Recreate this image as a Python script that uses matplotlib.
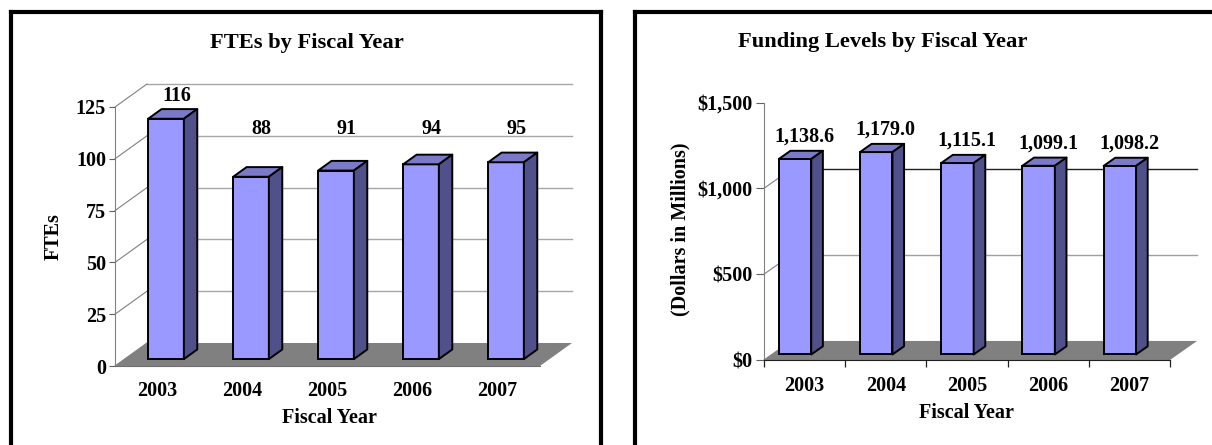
import matplotlib
matplotlib.use('Agg')
import matplotlib.pyplot as plt
from matplotlib.patches import Polygon
from matplotlib.lines import Line2D

# ---------------- data ----------------
years = ['2003', '2004', '2005', '2006', '2007']
fte_values = [116, 88, 91, 94, 95]
fte_labels = ['116', '88', '91', '94', '95']
fte_ticks = [0, 25, 50, 75, 100, 125]
fte_ticklabels = ['0', '25', '50', '75', '100', '125']

funding_values = [1138.6, 1179.0, 1115.1, 1099.1, 1098.2]
funding_labels = ['1,138.6', '1,179.0', '1,115.1', '1,099.1', '1,098.2']
fund_ticks = [0, 500, 1000, 1500]
fund_ticklabels = [r'\$0', r'\$500', r'\$1,000', r'\$1,500']

# ---------------- style ----------------
FONT = ['Liberation Serif', 'DejaVu Serif']
FRONT = '#9999FF'
TOPC = '#7A7AC8'
SIDE = '#50508A'
FLOOR = '#808080'

W, H = 1212, 445
fig = plt.figure(figsize=(W / 100, H / 100), dpi=100)


def fx(px):
    return px / W


def fy(py):
    return 1 - py / H


def draw_chart(ax, values, labels, ticks, ticklabels, ymax, ddx, ddy, f0, fs,
               xoff, width, label_pad, label_floor, grid_levels, grid_colors,
               diag_levels, bottom_color):
    n = len(values)
    ax.set_xlim(-0.5, n - 0.5)
    ax.set_ylim(0, ymax)
    for s in ['top', 'right']:
        ax.spines[s].set_visible(False)
    ax.spines['left'].set_color('#808080')
    ax.spines['bottom'].set_color(bottom_color)
    ax.patch.set_visible(False)

    # floor
    ax.add_patch(Polygon([(-0.5, 0), (n - 0.5, 0), (n - 0.5 + ddx, ddy), (-0.5 + ddx, ddy)],
                         closed=True, fc=FLOOR, ec='none', clip_on=False, zorder=1))
    # back wall gridlines
    for lev, col in zip(grid_levels, grid_colors):
        ax.plot([-0.5 + ddx, n - 0.5 + ddx], [lev + ddy, lev + ddy], color=col,
                lw=1.0, clip_on=False, zorder=1.5)
    # side wall diagonals
    for lev in diag_levels:
        ax.plot([-0.5, -0.5 + ddx], [lev, lev + ddy], color='#808080', lw=0.8,
                clip_on=False, zorder=1.5)

    base = f0 * ddy
    sdx, sdy = fs * ddx, fs * ddy
    xs = [i + xoff for i in range(n)]
    ax.bar(xs, values, width=width, bottom=base, color=FRONT, edgecolor='black',
           linewidth=1.4, zorder=3, clip_on=False)
    for x, v in zip(xs, values):
        x0, x1 = x - width / 2, x + width / 2
        top = base + v
        ax.add_patch(Polygon([(x0, top), (x1, top), (x1 + sdx, top + sdy), (x0 + sdx, top + sdy)],
                             closed=True, fc=TOPC, ec='black', lw=1.4, zorder=3,
                             clip_on=False, joinstyle='round'))
        ax.add_patch(Polygon([(x1, base), (x1 + sdx, base + sdy), (x1 + sdx, top + sdy), (x1, top)],
                             closed=True, fc=SIDE, ec='black', lw=1.4, zorder=3,
                             clip_on=False, joinstyle='round'))
    for x, v, lab in zip(xs, values, labels):
        ax.text(x + 0.8 * sdx, max(v, label_floor) + base + sdy + label_pad, lab,
                ha='center', va='center', fontsize=14.5, fontweight='bold',
                family=FONT, clip_on=False, zorder=5)

    ax.set_yticks(ticks)
    ax.set_yticklabels(ticklabels, family=FONT, fontweight='bold', fontsize=14.5)
    ax.set_xticks(range(n))
    ax.set_xticklabels(years, family=FONT, fontweight='bold', fontsize=14.5)


# ---------------- left chart: FTEs ----------------
axL = fig.add_axes([fx(115), fy(366), fx(425), 259 / H])
draw_chart(axL, fte_values, fte_labels, fte_ticks, fte_ticklabels, 125,
           ddx=0.376, ddy=11.1, f0=0.30, fs=0.42, xoff=0.10, width=0.42,
           label_pad=6.5, label_floor=100,
           grid_levels=[25, 50, 75, 100, 125], grid_colors=['#A6A6A6'] * 5,
           diag_levels=[0, 25, 50, 75, 100, 125], bottom_color='#707070')
axL.tick_params(axis='y', length=4, width=0.8, color='#606060', pad=2.5)
axL.tick_params(axis='x', length=0, pad=10.5)

# ---------------- right chart: Funding ----------------
axR = fig.add_axes([fx(764), fy(360), fx(406), 257.5 / H])
draw_chart(axR, funding_values, funding_labels, fund_ticks, fund_ticklabels, 1500,
           ddx=0.333, ddy=111, f0=0.29, fs=0.43, xoff=-0.118, width=0.40,
           label_pad=82, label_floor=0,
           grid_levels=[500, 1000], grid_colors=['#A0A0A0', '#202020'],
           diag_levels=[0, 500, 1000], bottom_color='#202020')
axR.set_xticks([-0.5, 0.5, 1.5, 2.5, 3.5, 4.5], minor=True)
axR.tick_params(axis='y', length=6, width=0.8, color='#606060', pad=2)
axR.tick_params(axis='x', which='major', length=0, pad=11.2)
axR.tick_params(axis='x', which='minor', length=5, width=0.9, color='#202020')

# ---------------- titles and axis labels ----------------
fig.text(fx(307), fy(43), 'FTEs by Fiscal Year', ha='center', va='center',
         fontsize=16.2, fontweight='bold', family=FONT)
fig.text(fx(883), fy(42), 'Funding Levels by Fiscal Year', ha='center', va='center',
         fontsize=16.2, fontweight='bold', family=FONT)
fig.text(fx(329), fy(418), 'Fiscal Year', ha='center', va='center',
         fontsize=14.5, fontweight='bold', family=FONT)
fig.text(fx(966), fy(413), 'Fiscal Year', ha='center', va='center',
         fontsize=14.5, fontweight='bold', family=FONT)
fig.text(fx(54), fy(237), 'FTEs', ha='center', va='center', rotation=90,
         fontsize=14.5, fontweight='bold', family=FONT)
fig.text(fx(680), fy(229), '(Dollars in Millions)', ha='center', va='center',
         rotation=90, fontsize=14.5, fontweight='bold', family=FONT)

# ---------------- panel borders ----------------
LW = 3.0
fig.add_artist(Line2D([fx(11), fx(11)], [fy(12), fy(450)], color='black', lw=LW,
                      transform=fig.transFigure, solid_capstyle='projecting'))
fig.add_artist(Line2D([fx(11), fx(600.5)], [fy(12), fy(12)], color='black', lw=LW,
                      transform=fig.transFigure, solid_capstyle='projecting'))
fig.add_artist(Line2D([fx(600.5), fx(600.5)], [fy(12), fy(450)], color='black', lw=LW,
                      transform=fig.transFigure, solid_capstyle='projecting'))
fig.add_artist(Line2D([fx(635.5), fx(635.5)], [fy(12), fy(450)], color='black', lw=LW,
                      transform=fig.transFigure, solid_capstyle='projecting'))
fig.add_artist(Line2D([fx(635.5), fx(1220)], [fy(12), fy(12)], color='black', lw=LW,
                      transform=fig.transFigure, solid_capstyle='projecting'))

fig.savefig('out.png', dpi=100)
